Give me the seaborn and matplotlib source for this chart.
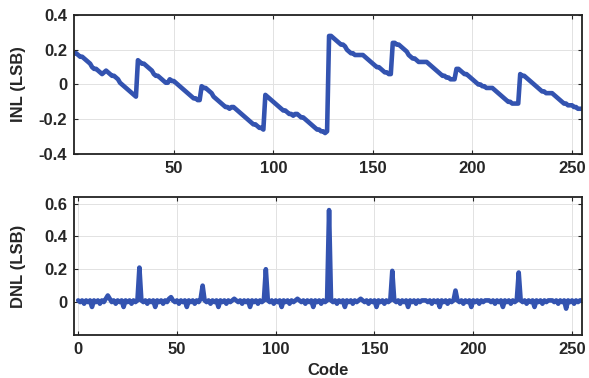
import seaborn as sns
import matplotlib.pyplot as plt
import pandas as pd

# INL per code (codes 0..255)
inl = [
    0.18, 0.18, 0.17, 0.16, 0.16, 0.15, 0.14, 0.13, 0.12, 0.10, 0.09, 0.09, 0.08, 0.07, 0.06, 0.07,
    0.08, 0.07, 0.06, 0.05, 0.05, 0.04, 0.03, 0.01, 0.00, -0.01, -0.02, -0.03, -0.04, -0.05, -0.06, -0.07,
    0.14, 0.13, 0.12, 0.12, 0.11, 0.10, 0.09, 0.08, 0.06, 0.05, 0.05, 0.04, 0.03, 0.02, 0.01, 0.01,
    0.03, 0.02, 0.02, 0.01, 0.00, -0.01, -0.02, -0.03, -0.04, -0.05, -0.06, -0.07, -0.08, -0.08, -0.09, -0.09,
    -0.01, -0.02, -0.02, -0.03, -0.04, -0.05, -0.07, -0.08, -0.09, -0.10, -0.11, -0.12, -0.13, -0.13, -0.14, -0.13,
    -0.13, -0.14, -0.15, -0.16, -0.17, -0.18, -0.19, -0.20, -0.21, -0.22, -0.23, -0.23, -0.24, -0.25, -0.25, -0.26,
    -0.06, -0.07, -0.08, -0.09, -0.10, -0.11, -0.12, -0.13, -0.14, -0.15, -0.15, -0.16, -0.17, -0.17, -0.18, -0.17,
    -0.17, -0.18, -0.19, -0.19, -0.20, -0.21, -0.22, -0.23, -0.24, -0.25, -0.26, -0.26, -0.27, -0.27, -0.28, -0.27,
    0.28, 0.28, 0.27, 0.26, 0.25, 0.24, 0.23, 0.23, 0.22, 0.20, 0.19, 0.18, 0.18, 0.17, 0.17, 0.17,
    0.17, 0.17, 0.16, 0.15, 0.14, 0.13, 0.12, 0.11, 0.10, 0.10, 0.09, 0.08, 0.07, 0.07, 0.06, 0.06,
    0.24, 0.24, 0.23, 0.23, 0.22, 0.21, 0.20, 0.19, 0.17, 0.16, 0.15, 0.15, 0.14, 0.13, 0.13, 0.13,
    0.13, 0.13, 0.12, 0.11, 0.10, 0.09, 0.08, 0.07, 0.06, 0.05, 0.05, 0.04, 0.04, 0.03, 0.03, 0.03,
    0.09, 0.09, 0.08, 0.07, 0.06, 0.06, 0.05, 0.04, 0.03, 0.02, 0.01, 0.00, 0.00, -0.01, -0.01, -0.02,
    -0.02, -0.02, -0.02, -0.03, -0.04, -0.05, -0.06, -0.07, -0.08, -0.09, -0.10, -0.10, -0.11, -0.11, -0.11, -0.11,
    0.06, 0.05, 0.05, 0.04, 0.03, 0.02, 0.01, 0.00, -0.01, -0.02, -0.03, -0.04, -0.04, -0.05, -0.05, -0.05,
    -0.05, -0.06, -0.07, -0.08, -0.09, -0.10, -0.11, -0.11, -0.12, -0.12, -0.12, -0.13, -0.13, -0.14, -0.14, -0.14,
]

# DNL per code
dnl = [
    0.01, 0.00, 0.01, -0.01, 0.01, 0.00, 0.01, -0.03, 0.01, 0.00, 0.01, -0.01, 0.01, 0.00, 0.02, 0.04,
    0.02, 0.00, 0.01, -0.01, 0.01, 0.00, 0.01, -0.03, 0.01, 0.00, 0.01, -0.01, 0.01, 0.00, 0.01, 0.21,
    0.01, 0.00, 0.01, -0.01, 0.01, 0.00, 0.01, -0.03, 0.01, 0.00, 0.01, -0.01, 0.01, 0.00, 0.02, 0.03,
    0.01, 0.00, 0.01, -0.01, 0.01, 0.00, 0.01, -0.03, 0.01, 0.00, 0.01, -0.01, 0.01, 0.00, 0.02, 0.10,
    0.01, 0.00, 0.01, -0.01, 0.01, 0.00, 0.01, -0.03, 0.01, 0.00, 0.01, -0.01, 0.01, 0.00, 0.01, 0.02,
    0.01, 0.00, 0.01, -0.01, 0.01, 0.00, 0.01, -0.03, 0.01, 0.00, 0.01, -0.01, 0.01, 0.00, 0.01, 0.20,
    0.01, 0.00, 0.01, -0.01, 0.01, 0.00, 0.01, -0.03, 0.01, 0.00, 0.01, -0.01, 0.01, 0.00, 0.01, 0.02,
    0.01, 0.00, 0.01, -0.01, 0.01, 0.00, 0.01, -0.03, 0.01, 0.00, 0.01, -0.01, 0.01, 0.00, 0.01, 0.56,
    0.01, 0.00, 0.01, -0.01, 0.01, 0.00, 0.01, -0.03, 0.01, 0.00, 0.01, -0.01, 0.01, 0.00, 0.01, 0.02,
    0.01, 0.00, 0.01, -0.01, 0.01, 0.00, 0.01, -0.03, 0.01, 0.00, 0.01, -0.01, 0.01, 0.00, 0.01, 0.19,
    0.01, 0.00, 0.01, -0.01, 0.01, 0.00, 0.01, -0.03, 0.01, 0.00, 0.01, -0.01, 0.01, 0.00, 0.01, 0.01,
    0.01, 0.00, 0.01, -0.01, 0.01, 0.00, 0.01, -0.03, 0.01, 0.00, 0.01, -0.01, 0.01, 0.00, 0.01, 0.07,
    0.01, 0.00, 0.01, -0.01, 0.01, 0.00, 0.01, -0.03, 0.01, 0.00, 0.01, -0.01, 0.01, 0.00, 0.01, 0.01,
    0.01, 0.00, 0.01, -0.01, 0.01, 0.00, 0.01, -0.03, 0.01, 0.00, 0.01, -0.01, 0.01, 0.00, 0.01, 0.18,
    0.01, 0.00, 0.01, -0.01, 0.01, 0.00, 0.01, -0.03, 0.01, 0.00, 0.01, -0.01, 0.01, 0.00, 0.01, 0.01,
    0.01, 0.00, 0.01, -0.01, 0.01, 0.00, 0.01, -0.04, 0.01, 0.00, 0.01, -0.01, 0.01, 0.00, 0.01, 0.01,
]

codes = list(range(256))
df = pd.DataFrame({"code": codes, "inl": inl, "dnl": dnl})

blue = "#3353b0"

sns.set_style("ticks")
plt.rcParams["font.family"] = ["Liberation Sans", "DejaVu Sans"]
plt.rcParams["font.weight"] = "bold"
plt.rcParams["axes.labelweight"] = "bold"
plt.rcParams["xtick.direction"] = "in"
plt.rcParams["ytick.direction"] = "in"

fig = plt.figure(figsize=(5.89, 3.78), dpi=100)
ax1 = fig.add_axes([0.126, 0.593, 0.862, 0.367])
ax2 = fig.add_axes([0.126, 0.114, 0.862, 0.365])

sns.lineplot(data=df, x="code", y="inl", ax=ax1, color=blue, linewidth=3.3,
             solid_joinstyle="round", solid_capstyle="round")
ax1.set_xlim(0, 255)
ax1.set_ylim(-0.4, 0.4)
ax1.set_xticks([50, 100, 150, 200, 250])
ax1.set_yticks([-0.4, -0.2, 0, 0.2, 0.4])
ax1.set_yticklabels(["-0.4", "-0.2", "0", "0.2", "0.4"])
ax1.set_xlabel("")
ax1.set_ylabel("INL (LSB)", fontsize=12, fontweight="bold")

sns.lineplot(data=df, x="code", y="dnl", ax=ax2, color=blue, linewidth=3.3,
             solid_joinstyle="round", solid_capstyle="round")
ax2.set_xlim(-2, 255)
ax2.set_ylim(-0.2, 0.64)
ax2.set_xticks([0, 50, 100, 150, 200, 250])
ax2.set_yticks([0, 0.2, 0.4, 0.6])
ax2.set_yticklabels(["0", "0.2", "0.4", "0.6"])
ax2.set_xlabel("Code", fontsize=12, fontweight="bold")
ax2.set_ylabel("DNL (LSB)", fontsize=12, fontweight="bold")

for ax in (ax1, ax2):
    ax.grid(True, color="#e2e2e2", linewidth=0.7)
    ax.tick_params(labelsize=12, length=3, width=0.8, pad=5, top=True, right=True)
    for s in ax.spines.values():
        s.set_linewidth(1.3)
        s.set_color("#222222")
    for lab in ax.get_xticklabels() + ax.get_yticklabels():
        lab.set_fontweight("bold")

ax1.yaxis.set_label_coords(-0.095, 0.5)
ax2.yaxis.set_label_coords(-0.095, 0.5)
ax2.xaxis.set_label_coords(0.5, -0.2)

fig.savefig("out.png", dpi=100)
